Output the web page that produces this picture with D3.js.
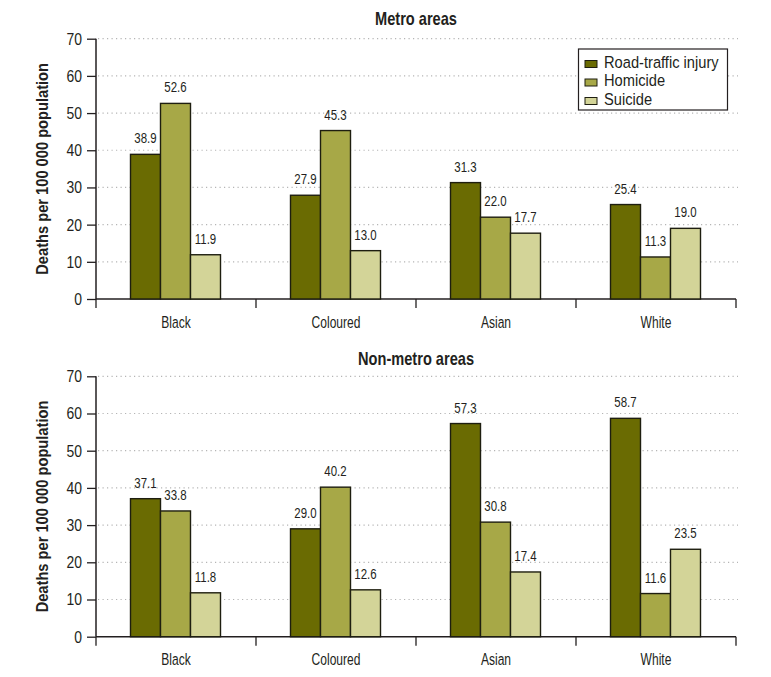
<!DOCTYPE html>
<html><head><meta charset="utf-8">
<script src="https://cdn.jsdelivr.net/npm/d3@7"></script>
<style>
body{margin:0;background:#fff;}
text{font-family:"Liberation Sans",Arial,sans-serif;fill:#231f20;}
</style></head>
<body>
<svg id="chart" width="771" height="677"></svg>
<script>
const categories = ["Black", "Coloured", "Asian", "White"];
const seriesNames = ["Road-traffic injury", "Homicide", "Suicide"];
const panelTitles = ["Metro areas", "Non-metro areas"];
const metroValues = [
  [38.9, 27.9, 31.3, 25.4],
  [52.6, 45.3, 22.0, 11.3],
  [11.9, 13.0, 17.7, 19.0]
];
const nonMetroValues = [
  [37.1, 29.0, 57.3, 58.7],
  [33.8, 40.2, 30.8, 11.6],
  [11.8, 12.6, 17.4, 23.5]
];
const yTicks = [0, 10, 20, 30, 40, 50, 60, 70];
const yTitle = "Deaths per 100 000 population";
const colors = ["#6a6b02", "#a7a847", "#d3d498"];

// horizontal condensing to imitate a narrow face
function condense(S) {
  return function (sel) {
    sel.each(function () {
      const t = d3.select(this);
      const x = +t.attr("x") || 0;
      t.attr("x", x / S);
      const tr = t.attr("transform") || "";
      t.attr("transform", (tr + ` scale(${S},1)`).trim());
    });
  };
}

const svg = d3.select("#chart");
const left = 96, right = 736;

const x0 = d3.scaleBand().domain(categories).range([left, right]).paddingInner(0).paddingOuter(0);
const x1 = d3.scaleBand().domain(seriesNames).range([34.5, 124.5]);

function panel(values, title, y0px, y70px, titleY, withLegend) {
  const y = d3.scaleLinear().domain([0, 70]).range([y0px, y70px]);
  const g = svg.append("g");

  // grid
  g.selectAll("line.grid").data(yTicks.filter(d => d > 0)).join("line")
    .attr("x1", left + 2).attr("x2", right + 2)
    .attr("y1", d => y(d)).attr("y2", d => y(d))
    .attr("stroke", "#b5b5b5").attr("stroke-width", 1.2)
    .attr("stroke-dasharray", "1.2,3.3");

  // y axis
  const ya = g.append("g").attr("transform", `translate(${left},0)`)
    .call(d3.axisLeft(y).tickValues(yTicks).tickSize(9).tickPadding(5).tickFormat(d3.format("d")));
  ya.select(".domain").attr("stroke", "#231f20").attr("stroke-width", 1.5).attr("d", `M0,${y(0)}V${y(70)}`);
  ya.selectAll(".tick line").attr("stroke", "#231f20").attr("stroke-width", 1.3);
  ya.selectAll(".tick text").attr("font-size", 17).attr("font-family", null).attr("fill", "#231f20").call(condense(0.82));

  // x axis
  const xa = g.append("g").attr("transform", `translate(0,${y(0)})`)
    .call(d3.axisBottom(x0).tickSize(0).tickPadding(17));
  xa.select(".domain").attr("stroke", "#231f20").attr("stroke-width", 1.5).attr("d", `M${left},0H${right}`);
  xa.selectAll(".tick text").attr("font-size", 16.5).attr("font-family", null).attr("fill", "#231f20").call(condense(0.73));
  const bounds = categories.map(c => x0(c)).concat([x0(categories[categories.length - 1]) + x0.bandwidth()]);
  xa.selectAll("line.sep").data(bounds).join("line")
    .attr("x1", d => d).attr("x2", d => d).attr("y1", 0).attr("y2", 9)
    .attr("stroke", "#231f20").attr("stroke-width", 1.3);

  // bars
  const flat = [];
  values.forEach((arr, si) => arr.forEach((v, ci) => flat.push({s: seriesNames[si], si, c: categories[ci], v})));
  g.selectAll("rect.bar").data(flat).join("rect")
    .attr("x", d => x0(d.c) + x1(d.s))
    .attr("width", x1.bandwidth())
    .attr("y", d => y(d.v))
    .attr("height", d => y(0) - y(d.v))
    .attr("fill", d => colors[d.si])
    .attr("stroke", "#1e1e10").attr("stroke-width", 1.4);

  g.selectAll("text.val").data(flat).join("text")
    .attr("transform", d => `translate(${x0(d.c) + x1(d.s) + x1.bandwidth() / 2},${y(d.v) - 11})`)
    .attr("text-anchor", "middle").attr("font-size", 15.5)
    .text(d => d.v.toFixed(1)).call(condense(0.74));

  // title
  g.append("text").attr("transform", `translate(${(left + right) / 2},${titleY})`)
    .attr("text-anchor", "middle").attr("font-size", 17.7).attr("font-weight", "bold")
    .text(title).call(condense(0.825));

  // y title
  g.append("text").attr("transform", `translate(48,${(y0px + y70px) / 2}) rotate(-90)`)
    .attr("text-anchor", "middle").attr("font-size", 17).attr("font-weight", "bold")
    .text(yTitle).call(condense(0.863));

  if (withLegend) {
    const lg = g.append("g");
    lg.append("rect").attr("x", 578.5).attr("y", 49).attr("width", 149).attr("height", 61)
      .attr("fill", "#fff").attr("stroke", "#231f20").attr("stroke-width", 1.2);
    seriesNames.forEach((s, i) => {
      lg.append("rect").attr("x", 585).attr("y", 60.5 + i * 18.5).attr("width", 12).attr("height", 7)
        .attr("fill", colors[i]).attr("stroke", "#1e1e10").attr("stroke-width", 1);
      lg.append("text").attr("transform", `translate(604,${67.5 + i * 18.5})`).attr("font-size", 16.3)
        .text(s).call(condense(0.9));
    });
  }
}

panel(metroValues, panelTitles[0], 299, 38.7, 25, true);
panel(nonMetroValues, panelTitles[1], 636.7, 376.3, 365, false);
</script>
</body></html>
